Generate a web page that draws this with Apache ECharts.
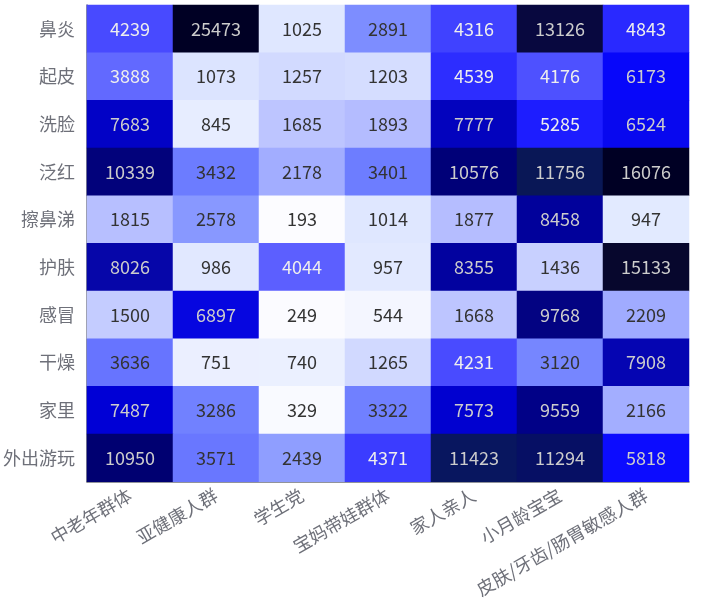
<!DOCTYPE html>
<html>
<head>
<meta charset="utf-8">
<script src="https://cdn.jsdelivr.net/npm/echarts@6/dist/echarts.min.js"></script>
<style>html,body{margin:0;padding:0;background:#fff;}#c{width:703px;height:600px;}</style>
</head>
<body>
<div id="c"></div>
<script>
const xCategories = ['中老年群体', '亚健康人群', '学生党', '宝妈带娃群体', '家人亲人', '小月龄宝宝', '皮肤/牙齿/肠胃敏感人群'];
const yCategories = ['鼻炎', '起皮', '洗脸', '泛红', '擦鼻涕', '护肤', '感冒', '干燥', '家里', '外出游玩'];
const values = [
  [4239, 25473, 1025, 2891, 4316, 13126, 4843],
  [3888, 1073, 1257, 1203, 4539, 4176, 6173],
  [7683, 845, 1685, 1893, 7777, 5285, 6524],
  [10339, 3432, 2178, 3401, 10576, 11756, 16076],
  [1815, 2578, 193, 1014, 1877, 8458, 947],
  [8026, 986, 4044, 957, 8355, 1436, 15133],
  [1500, 6897, 249, 544, 1668, 9768, 2209],
  [3636, 751, 740, 1265, 4231, 3120, 7908],
  [7487, 3286, 329, 3322, 7573, 9559, 2166],
  [10950, 3571, 2439, 4371, 11423, 11294, 5818]
];
const colorStops = [
  '#ffffff', '#f6f7ff', '#e0e8ff', '#c4ccff', '#b0b8ff', '#8a9aff', '#7a8aff', '#6a7aff',
  '#6064ff', '#2e2eff', '#2626ff', '#1616ff', '#0606ff', '#0808f0', '#0606dc', '#0000d6',
  '#0606aa', '#00009a', '#000090', '#000088', '#06067c', '#00007a', '#000070', '#0a1a5c',
  '#081450', '#08104a', '#080840', '#08083c', '#080838', '#080834', '#08082e', '#04042a', '#000024'
];

const data = [];
values.forEach((row, yi) => row.forEach((v, xi) => data.push([xi, yi, v])));

const axisColor = '#6E7079';
const chart = echarts.init(document.getElementById('c'));
chart.setOption({
  animation: false,
  textStyle: { fontFamily: "'Noto Sans CJK SC', sans-serif" },
  grid: { left: 84, right: 14, top: 5, bottom: 113, containLabel: false },
  xAxis: {
    type: 'category',
    data: xCategories,
    axisLine: { lineStyle: { width: 1.5, color: axisColor } },
    axisTick: { length: 7.5, lineStyle: { width: 1.5, color: axisColor } },
    axisLabel: { interval: 0, rotate: 30, fontSize: 18, margin: 12, color: axisColor },
    splitLine: { show: false },
    splitArea: { show: false }
  },
  yAxis: {
    type: 'category',
    inverse: true,
    data: yCategories,
    axisLine: { lineStyle: { width: 1.5, color: axisColor } },
    axisTick: { length: 7.5, lineStyle: { width: 1.5, color: axisColor } },
    axisLabel: { interval: 0, fontSize: 18, margin: 12, color: axisColor },
    splitLine: { show: false },
    splitArea: { show: false }
  },
  visualMap: {
    type: 'continuous',
    show: false,
    min: 0,
    max: 16000,
    dimension: 2,
    inRange: { color: colorStops }
  },
  series: [{
    type: 'heatmap',
    data: data,
    label: { show: true, fontSize: 18, fontFamily: "'Noto Sans CJK SC', sans-serif" }
  }]
});
</script>
</body>
</html>
